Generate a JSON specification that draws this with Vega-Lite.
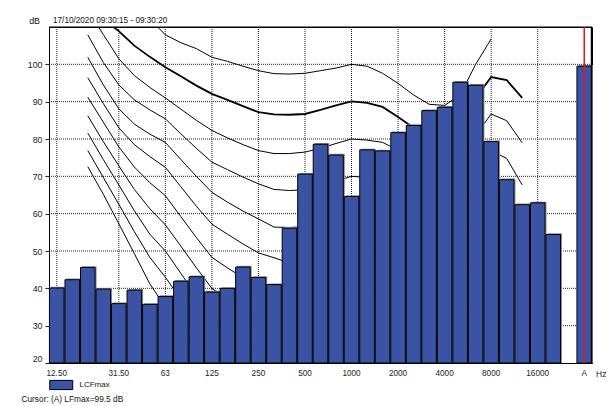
{
  "$schema": "https://vega.github.io/schema/vega-lite/v6.json",
  "width": 543,
  "height": 336,
  "autosize": {"type": "none"},
  "padding": {"left": 49, "top": 27, "right": 23, "bottom": 43},
  "background": "white",
  "config": {
    "font": "Liberation Sans",
    "view": {"stroke": "black", "strokeWidth": 1}
  },
  "view": {"stroke": "black", "strokeWidth": 1},
  "title": {"text": "17/10/2020 09:30:15 - 09:30:20", "anchor": "start", "frame": "group", "fontSize": 8.2, "fontWeight": "normal", "color": "#111", "offset": 3, "dx": 4, "dy": 12.5},
  "datasets": {
    "bars": [
      {"f": "12.50", "db": 40.1, "series": "LCFmax"},
      {"f": "16", "db": 42.3, "series": "LCFmax"},
      {"f": "20", "db": 45.6, "series": "LCFmax"},
      {"f": "25", "db": 39.8, "series": "LCFmax"},
      {"f": "31.50", "db": 35.9, "series": "LCFmax"},
      {"f": "40", "db": 39.5, "series": "LCFmax"},
      {"f": "50", "db": 35.7, "series": "LCFmax"},
      {"f": "63", "db": 37.8, "series": "LCFmax"},
      {"f": "80", "db": 41.9, "series": "LCFmax"},
      {"f": "100", "db": 43.1, "series": "LCFmax"},
      {"f": "125", "db": 39.0, "series": "LCFmax"},
      {"f": "160", "db": 40.0, "series": "LCFmax"},
      {"f": "200", "db": 45.7, "series": "LCFmax"},
      {"f": "250", "db": 42.9, "series": "LCFmax"},
      {"f": "315", "db": 41.0, "series": "LCFmax"},
      {"f": "400", "db": 56.1, "series": "LCFmax"},
      {"f": "500", "db": 70.6, "series": "LCFmax"},
      {"f": "630", "db": 78.6, "series": "LCFmax"},
      {"f": "800", "db": 75.7, "series": "LCFmax"},
      {"f": "1000", "db": 64.6, "series": "LCFmax"},
      {"f": "1250", "db": 77.1, "series": "LCFmax"},
      {"f": "1600", "db": 76.8, "series": "LCFmax"},
      {"f": "2000", "db": 81.7, "series": "LCFmax"},
      {"f": "2500", "db": 83.6, "series": "LCFmax"},
      {"f": "3150", "db": 87.6, "series": "LCFmax"},
      {"f": "4000", "db": 88.5, "series": "LCFmax"},
      {"f": "5000", "db": 95.2, "series": "LCFmax"},
      {"f": "6300", "db": 94.4, "series": "LCFmax"},
      {"f": "8000", "db": 79.3, "series": "LCFmax"},
      {"f": "10000", "db": 69.1, "series": "LCFmax"},
      {"f": "12500", "db": 62.4, "series": "LCFmax"},
      {"f": "16000", "db": 62.9, "series": "LCFmax"},
      {"f": "20000", "db": 54.4, "series": "LCFmax"},
      {"f": "A", "db": 99.5, "series": "LCFmax"}
    ],
    "curves": [
      {"f": "20", "p0": 72.6, "p10": 76.9, "p20": 81.6, "p30": 86.2, "p40": 91.2, "p50": 96.4, "p60": 101.9, "p70": 107.9, "p80": 114.4, "p90": 118, "p100": 123},
      {"f": "25", "p0": 65.2, "p10": 69.7, "p20": 74.5, "p30": 79.3, "p40": 84.5, "p50": 89.5, "p60": 94.5, "p70": 100.5, "p80": 108, "p90": 112, "p100": 120},
      {"f": "31.50", "p0": 57.3, "p10": 62.5, "p20": 67.7, "p30": 72.8, "p40": 77.9, "p50": 83, "p60": 88.1, "p70": 94.5, "p80": 101.5, "p90": 108.9, "p100": 117},
      {"f": "40", "p0": 49.3, "p10": 55.2, "p20": 60.8, "p30": 66.5, "p40": 72.5, "p50": 78.5, "p60": 84, "p70": 90.5, "p80": 97, "p90": 105, "p100": 114.5},
      {"f": "50", "p0": 41.2, "p10": 48.3, "p20": 54.5, "p30": 61.3, "p40": 68.3, "p50": 75.3, "p60": 81.3, "p70": 87.8, "p80": 93.8, "p90": 102, "p100": 112.2},
      {"f": "63", "p0": 35, "p10": 43, "p20": 50, "p30": 57, "p40": 64.8, "p50": 72.4, "p60": 79.1, "p70": 85.4, "p80": 91, "p90": 99.2, "p100": 107.9},
      {"f": "80", "p0": 29.5, "p10": 37, "p20": 44, "p30": 51.3, "p40": 59.2, "p50": 67.2, "p60": 74.5, "p70": 81.4, "p80": 88, "p90": 96.8, "p100": 105.8},
      {"f": "100", "p0": 24, "p10": 31, "p20": 38, "p30": 45.5, "p40": 53.6, "p50": 62, "p60": 70, "p70": 77.5, "p80": 85, "p90": 94.3, "p100": 104.2},
      {"f": "125", "p0": 19, "p10": 25, "p20": 32, "p30": 40, "p40": 48.3, "p50": 57.2, "p60": 65.7, "p70": 73.8, "p80": 82.3, "p90": 92.1, "p100": 101.9},
      {"f": "160", "p0": 15.5, "p10": 21, "p20": 28.5, "p30": 37, "p40": 45.5, "p50": 54.5, "p60": 63.1, "p70": 71.8, "p80": 80.3, "p90": 90.5, "p100": 100.8},
      {"f": "200", "p0": 13, "p10": 18, "p20": 25.5, "p30": 34, "p40": 42.9, "p50": 51.9, "p60": 60.7, "p70": 69.8, "p80": 78.5, "p90": 88.8, "p100": 99.5},
      {"f": "250", "p0": 11, "p10": 15.5, "p20": 23, "p30": 31.5, "p40": 40.5, "p50": 49.5, "p60": 58.6, "p70": 68, "p80": 76.9, "p90": 87.2, "p100": 98.3},
      {"f": "315", "p0": 9, "p10": 13.5, "p20": 21, "p30": 29.5, "p40": 38.5, "p50": 48.2, "p60": 56.4, "p70": 66.5, "p80": 76.1, "p90": 86.6, "p100": 97.5},
      {"f": "400", "p0": 7.5, "p10": 12, "p20": 20, "p30": 28.5, "p40": 37.5, "p50": 46.8, "p60": 56.3, "p70": 66.2, "p80": 76.1, "p90": 86.5, "p100": 97.4},
      {"f": "500", "p0": 6.5, "p10": 11, "p20": 19.5, "p30": 28, "p40": 37.3, "p50": 46.8, "p60": 56.5, "p70": 66.4, "p80": 76.5, "p90": 86.7, "p100": 97.6},
      {"f": "630", "p0": 5.5, "p10": 11, "p20": 19.8, "p30": 28.5, "p40": 38, "p50": 47.6, "p60": 57.4, "p70": 67.3, "p80": 77.5, "p90": 87.8, "p100": 98.3},
      {"f": "800", "p0": 4.5, "p10": 10.5, "p20": 20, "p30": 29.4, "p40": 39.1, "p50": 48.9, "p60": 58.8, "p70": 68.7, "p80": 78.8, "p90": 89, "p100": 99},
      {"f": "1000", "p0": 4, "p10": 10, "p20": 20, "p30": 30, "p40": 40, "p50": 50, "p60": 60, "p70": 70, "p80": 80, "p90": 90.1, "p100": 100},
      {"f": "1250", "p0": 3.5, "p10": 9.7, "p20": 19.7, "p30": 29.7, "p40": 39.7, "p50": 49.7, "p60": 59.7, "p70": 69.7, "p80": 79.7, "p90": 89.7, "p100": 99.5},
      {"f": "1600", "p0": 1.5, "p10": 8.5, "p20": 18.5, "p30": 28.5, "p40": 38.5, "p50": 48.5, "p60": 58.5, "p70": 68.5, "p80": 79.1, "p90": 88.6, "p100": 97.6},
      {"f": "2000", "p0": -1, "p10": 6.3, "p20": 16.3, "p30": 26.3, "p40": 36.3, "p50": 46.3, "p60": 56.3, "p70": 66.3, "p80": 77, "p90": 85.9, "p100": 94.9},
      {"f": "2500", "p0": -3, "p10": 4, "p20": 14, "p30": 24, "p40": 34, "p50": 44, "p60": 54, "p70": 64, "p80": 74.5, "p90": 83, "p100": 91.8},
      {"f": "3150", "p0": -4, "p10": 1.5, "p20": 11.5, "p30": 21.5, "p40": 31.5, "p50": 41.5, "p60": 51.5, "p70": 61.5, "p80": 72, "p90": 80.8, "p100": 89.3},
      {"f": "4000", "p0": -3.5, "p10": 0.5, "p20": 10.5, "p30": 20.5, "p40": 30.5, "p50": 40.5, "p60": 50.5, "p70": 60.5, "p80": 71, "p90": 80.3, "p100": 89},
      {"f": "5000", "p0": -1, "p10": 2, "p20": 12, "p30": 22, "p40": 32, "p50": 42, "p60": 52, "p70": 62, "p80": 73, "p90": 82.7, "p100": 91.8},
      {"f": "6300", "p0": 5, "p10": 12, "p20": 17, "p30": 27, "p40": 37, "p50": 47.5, "p60": 58, "p70": 68.5, "p80": 81, "p90": 90.9, "p100": 100},
      {"f": "8000", "p0": 12, "p10": 20, "p20": 24, "p30": 34.5, "p40": 45, "p50": 55.5, "p60": 66, "p70": 76.9, "p80": 86.7, "p90": 96.6, "p100": 106.8},
      {"f": "10000", "p0": 14, "p10": 22, "p20": 21, "p30": 31.5, "p40": 42, "p50": 53, "p60": 64, "p70": 74.8, "p80": 84.9, "p90": 95.8, "p100": null},
      {"f": "12500", "p0": 12, "p10": 20, "p20": 16, "p30": 26, "p40": 36, "p50": 46.5, "p60": 57, "p70": 67.7, "p80": 79, "p90": 91, "p100": null}
    ]
  },
  "layer": [
    {
      "data": {"values": [{"g": 30}, {"g": 40}, {"g": 50}, {"g": 60}, {"g": 70}, {"g": 80}, {"g": 90}, {"g": 100}]},
      "mark": {"type": "rule", "color": "#222", "strokeWidth": 1, "strokeDash": [1, 1]},
      "encoding": {
        "y": {
          "field": "g", "type": "quantitative",
          "scale": {"domain": [20, 110], "zero": false, "nice": false},
          "axis": {
            "values": [20, 30, 40, 50, 60, 70, 80, 90, 100],
            "grid": false, "labelFlush": 1,
            "tickSize": 4, "tickColor": "#222", "domainColor": "black",
            "labelFontSize": 8.8, "labelColor": "#222", "labelPadding": 3,
            "title": "dB", "titleAngle": 0, "titleX": -15, "titleY": -4, "titleAlign": "center", "titleBaseline": "alphabetic",
            "titleFontWeight": "normal", "titleFontSize": 8.8, "titleColor": "#111"
          }
        }
      }
    },
    {
      "data": {"values": [{"f": "12.50"}, {"f": "31.50"}, {"f": "63"}, {"f": "125"}, {"f": "250"}, {"f": "500"}, {"f": "1000"}, {"f": "2000"}, {"f": "4000"}, {"f": "8000"}, {"f": "16000"}]},
      "mark": {"type": "rule", "color": "#222", "strokeWidth": 1, "strokeDash": [1, 1]},
      "encoding": {
        "x": {
          "field": "f", "type": "nominal", "bandPosition": 0.5,
          "scale": {"domain": ["12.50","16","20","25","31.50","40","50","63","80","100","125","160","200","250","315","400","500","630","800","1000","1250","1600","2000","2500","3150","4000","5000","6300","8000","10000","12500","16000","20000"," ","A"], "paddingInner": 0.06, "paddingOuter": 0.03},
          "axis": {
            "values": ["12.50","31.50","63","125","250","500","1000","2000","4000","8000","16000","A"],
            "bandPosition": 0.5, "grid": false,
            "ticks": false, "domainColor": "black", "labelAngle": 0, "labelFontSize": 8.2, "labelColor": "#222", "labelPadding": 6,
            "title": "Cursor: (A)  LFmax=99.5 dB", "titleFontSize": 8.3, "titleFontWeight": "normal", "titleColor": "#111",
            "titleX": -28, "titleY": 38, "titleAlign": "left", "titleAnchor": "start", "titleBaseline": "alphabetic"
          }
        }
      }
    },
    {
      "data": {"name": "curves"},
      "transform": [
        {"fold": ["p0", "p10", "p20", "p30", "p40", "p50", "p60", "p70", "p80", "p90", "p100"], "as": ["phon", "db"]},
        {"filter": "datum.phon != 'p90'"}
      ],
      "mark": {"type": "line", "clip": true, "color": "black", "strokeWidth": 1},
      "encoding": {
        "x": {"field": "f", "type": "nominal", "bandPosition": 0.5},
        "y": {"field": "db", "type": "quantitative"},
        "detail": {"field": "phon"},
        "order": {"value": null}
      }
    },
    {
      "data": {"name": "curves"},
      "transform": [
        {"fold": ["p0", "p10", "p20", "p30", "p40", "p50", "p60", "p70", "p80", "p90", "p100"], "as": ["phon", "db"]},
        {"filter": "datum.phon == 'p90'"}
      ],
      "mark": {"type": "line", "clip": true, "color": "black", "strokeWidth": 1.8},
      "encoding": {
        "x": {"field": "f", "type": "nominal", "bandPosition": 0.5},
        "y": {"field": "db", "type": "quantitative"},
        "detail": {"field": "phon"},
        "order": {"value": null}
      }
    },
    {
      "data": {"name": "bars"},
      "mark": {"type": "bar", "fill": "#8c8c8c", "xOffset": 1.5, "yOffset": -1.2},
      "encoding": {
        "x": {"field": "f", "type": "nominal"},
        "y": {"field": "db", "type": "quantitative"},
        "y2": {"datum": 20}
      }
    },
    {
      "data": {"name": "bars"},
      "mark": {"type": "bar", "stroke": "black", "strokeWidth": 1},
      "encoding": {
        "x": {"field": "f", "type": "nominal"},
        "y": {"field": "db", "type": "quantitative"},
        "y2": {"datum": 20},
        "fill": {
          "field": "series", "type": "nominal",
          "scale": {"range": ["#3A53A4"]},
          "legend": {
            "orient": "none", "legendX": 5.75, "legendY": 351.5, "title": null, "padding": 0,
            "symbolType": "M-2,-0.8H2V0.8H-2Z", "symbolSize": 132, "symbolStrokeColor": "black", "symbolStrokeWidth": 1,
            "labelFontSize": 8, "labelOffset": 11.75, "labelColor": "#111"
          }
        }
      }
    },
    {
      "data": {"values": [{"edge": "top"}]},
      "mark": {"type": "rule", "color": "black", "strokeWidth": 1},
      "encoding": {"y": {"datum": 110, "type": "quantitative"}}
    },
    {
      "data": {"values": [{"edge": "right"}]},
      "mark": {"type": "rule", "color": "black", "strokeWidth": 1.5},
      "encoding": {"x": {"datum": "A", "type": "nominal", "bandPosition": 1}}
    },
    {
      "data": {"values": [{"cursor": "A"}]},
      "mark": {"type": "rule", "color": "#e8141c", "strokeWidth": 1.5},
      "encoding": {"x": {"field": "cursor", "type": "nominal", "bandPosition": 0.5}}
    },
    {
      "data": {"values": [{"unit": "Hz"}]},
      "mark": {"type": "text", "dx": 17, "dy": 7, "baseline": "top", "align": "center", "fontSize": 8.5, "color": "#222"},
      "encoding": {
        "x": {"datum": "A", "type": "nominal", "bandPosition": 0.5},
        "y": {"datum": 20, "type": "quantitative"},
        "text": {"field": "unit"}
      }
    }
  ]
}
